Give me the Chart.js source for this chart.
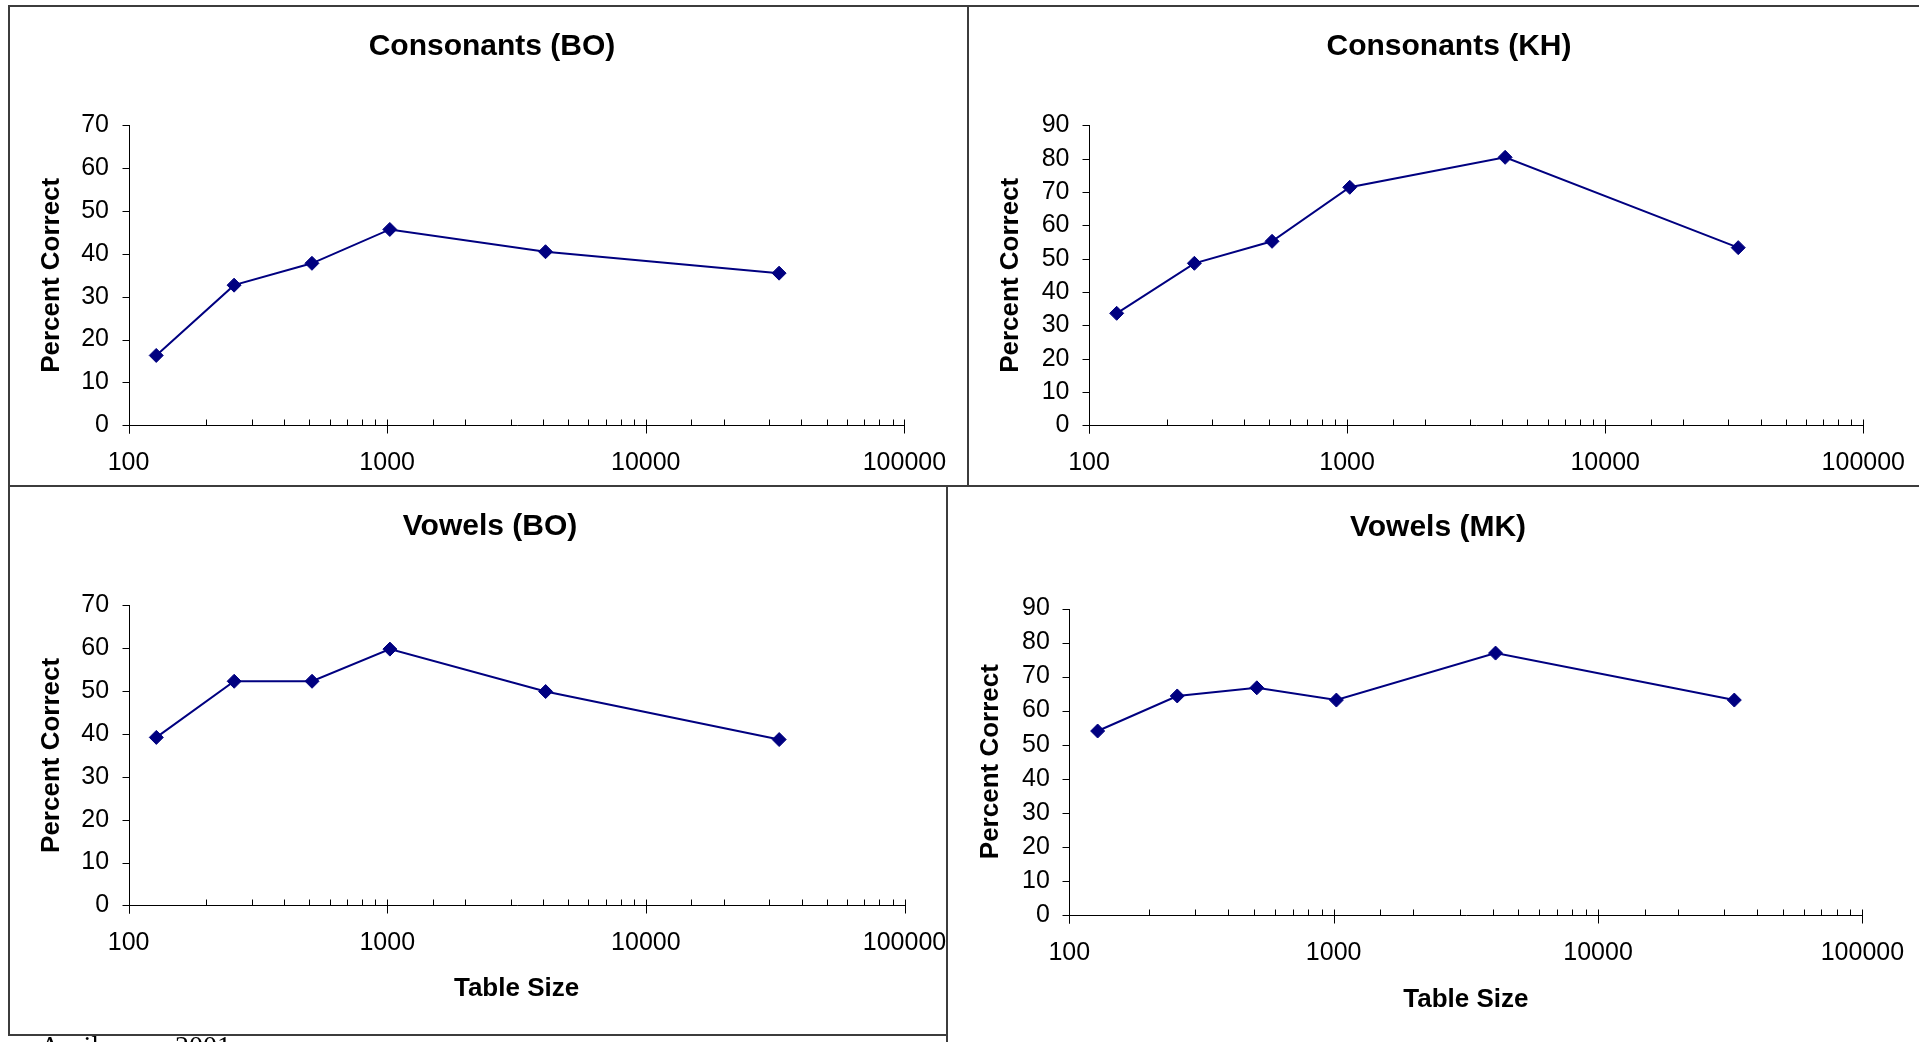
<!DOCTYPE html>
<html><head><meta charset="utf-8">
<script src="https://cdn.jsdelivr.net/npm/chart.js@4.4.1/dist/chart.umd.min.js"></script>
<style>
html,body{margin:0;padding:0;background:#fff;width:1929px;height:1042px;overflow:hidden;position:relative;}
canvas{position:absolute;}
.ln{position:absolute;background:#3c3c3c;z-index:5;}
.foot{position:absolute;font-family:"Liberation Serif","Times New Roman",serif;font-size:28px;line-height:28px;color:#000;white-space:pre;z-index:6;}
</style></head><body>
<canvas id="c0" width="964" height="478" style="left:10px;top:7px"></canvas>
<canvas id="c1" width="958" height="478" style="left:970px;top:7px"></canvas>
<canvas id="c2" width="960" height="548" style="left:10px;top:487px"></canvas>
<canvas id="c3" width="980" height="555" style="left:948px;top:487px"></canvas>

<div class="ln" style="left:8px;top:5px;width:1911px;height:2px"></div>
<div class="ln" style="left:8px;top:5px;width:2px;height:1031px"></div>
<div class="ln" style="left:8px;top:485px;width:1911px;height:2px"></div>
<div class="ln" style="left:967px;top:5px;width:2px;height:481px"></div>
<div class="ln" style="left:946px;top:485px;width:2px;height:557px"></div>
<div class="ln" style="left:8px;top:1034px;width:940px;height:2px"></div>

<div class="foot" style="left:40px;top:1032px">April</div>
<div class="foot" style="left:175px;top:1032px">2001</div>

<script>
// ---------- data ----------
const tableSizes = [128, 256, 512, 1024, 4096, 32768];
const consonantsBO = [16.3, 32.7, 37.8, 45.7, 40.5, 35.5];
const consonantsKH = [33.6, 48.6, 55.2, 71.4, 80.4, 53.3];
const vowelsBO = [39.2, 52.3, 52.3, 59.8, 49.9, 38.7];
const vowelsMK = [54.0, 64.3, 66.7, 63.1, 76.9, 63.1];
const xTickLabels = [100, 1000, 10000, 100000];
const yMaxLow = 70;
const yMaxHigh = 90;
const yStep = 10;
const chartTitles = ["Consonants (BO)", "Consonants (KH)", "Vowels (BO)", "Vowels (MK)"];
const yAxisTitle = "Percent Correct";
const xAxisTitle = "Table Size";

// ---------- layout (positions / styles only) ----------
const FONT = "'Liberation Sans', Arial, Helvetica, sans-serif";
const panels = [
  {id:'c0', series:consonantsBO, title:chartTitles[0], yMax:yMaxLow,  padL:69.6, yW:48.9, tPadTop:22.6, tPadBot:60.9, xH:59.7,  padR:69.6, yTitlePad:-43.2, xTitle:false},
  {id:'c1', series:consonantsKH, title:chartTitles[1], yMax:yMaxHigh, padL:64,   yW:55,   tPadTop:22.6, tPadBot:60.9, xH:59.7,  padR:64,   yTitlePad:-38.6, xTitle:false},
  {id:'c2', series:vowelsBO,     title:chartTitles[2], yMax:yMaxLow,  padL:65.5, yW:53.1, tPadTop:22.6, tPadBot:61.0, xH:129.6, padR:65.5, yTitlePad:-39.1, xTitle:true, xTitlePad:30.4},
  {id:'c3', series:vowelsMK,     title:chartTitles[3], yMax:yMaxHigh, padL:65.6, yW:55.7, tPadTop:23.6, tPadBot:63.1, xH:127.2, padR:65.6, yTitlePad:-38.7, xTitle:true, xTitlePad:26.4}
];

const excelAxes = {
  id: 'excelAxes',
  beforeDatasetsDraw(chart) {
    const {ctx, chartArea, scales} = chart;
    const xs = scales.x, ys = scales.y;
    const L = Math.round(chartArea.left) + 0.5;
    const B = Math.round(chartArea.bottom) + 0.5;
    ctx.save();
    ctx.strokeStyle = '#000';
    ctx.lineWidth = 1;
    ctx.beginPath();
    ctx.moveTo(L, Math.round(chartArea.top));
    ctx.lineTo(L, B + 8);
    ctx.moveTo(L, B);
    ctx.lineTo(Math.round(xs.getPixelForValue(xTickLabels[xTickLabels.length-1])) + 1, B);
    ys.ticks.forEach(t => {
      const py = Math.round(ys.getPixelForValue(t.value)) + 0.5;
      ctx.moveTo(L - 7, py); ctx.lineTo(L, py);
    });
    xs.ticks.forEach(t => {
      const px = Math.round(xs.getPixelForValue(t.value)) + 0.5;
      const major = xTickLabels.includes(t.value);
      ctx.moveTo(px, B - 6); ctx.lineTo(px, major ? B + 8 : B);
    });
    ctx.stroke();
    ctx.restore();
  }
};

panels.forEach(p => {
  const pts = tableSizes.map((x, i) => ({x: x, y: p.series[i]}));
  new Chart(document.getElementById(p.id), {
    type: 'line',
    data: {datasets: [{
      label: p.title,
      data: pts,
      borderColor: '#000080',
      backgroundColor: '#000080',
      borderWidth: 2,
      tension: 0,
      pointStyle: 'rectRot',
      pointRadius: 7,
      pointHoverRadius: 7,
      pointBackgroundColor: '#000080',
      pointBorderColor: '#000080',
      pointBorderWidth: 1,
      clip: false
    }]},
    options: {
      responsive: false,
      animation: false,
      devicePixelRatio: 1,
      layout: {padding: {left: p.padL, top: 0, right: p.padR, bottom: 0}},
      plugins: {
        legend: {display: false},
        tooltip: {enabled: false},
        title: {
          display: true, text: p.title, color: '#000',
          font: {family: FONT, size: 30, weight: 'bold'},
          padding: {top: p.tPadTop - 0.6, bottom: p.tPadBot - 0.6}
        }
      },
      scales: {
        x: {
          type: 'logarithmic', min: xTickLabels[0], max: xTickLabels[xTickLabels.length-1],
          grid: {display: false, drawTicks: false},
          border: {display: false},
          ticks: {
            autoSkip: false, maxRotation: 0, minRotation: 0, padding: 23, color: '#000',
            font: {family: FONT, size: 25},
            callback: (v) => xTickLabels.includes(v) ? String(v) : ''
          },
          title: {
            display: p.xTitle, text: xAxisTitle, color: '#000',
            font: {family: FONT, size: 26, weight: 'bold'},
            padding: {top: 0, bottom: p.xTitlePad || 0}
          },
          afterFit: (s) => { s.height = p.xH; }
        },
        y: {
          type: 'linear', min: 0, max: p.yMax,
          grid: {display: false, drawTicks: false},
          border: {display: false},
          ticks: {stepSize: yStep, padding: 19.5, color: '#000', font: {family: FONT, size: 25}},
          title: {
            display: true, text: yAxisTitle, color: '#000',
            font: {family: FONT, size: 26, weight: 'bold'},
            padding: {top: p.yTitlePad, bottom: 0}
          },
          afterFit: (s) => { s.width = p.yW; }
        }
      }
    },
    plugins: [excelAxes]
  });
});
</script>
</body></html>
